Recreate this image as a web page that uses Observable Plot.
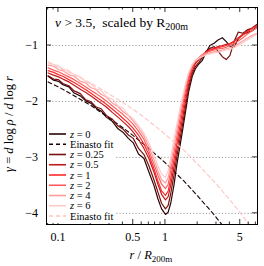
<!DOCTYPE html>
<html>
<head>
<meta charset="utf-8">
<script src="https://cdn.jsdelivr.net/npm/d3@7"></script>
<script src="https://cdn.jsdelivr.net/npm/@observablehq/plot@0.6"></script>
<style>
  html, body { margin: 0; padding: 0; background: white; }
  svg { display: block; }
</style>
</head>
<body>
<div id="chart"></div>
<script>
// ---- data ----
const rGrid = [0.08,0.09,0.1,0.11,0.125,0.14,0.16,0.18,0.2,0.225,0.25,0.28,0.32,0.36,0.4,0.45,0.5,0.56,0.63,0.7,0.78,0.85,0.92,1.0,1.06,1.12,1.2,1.28,1.36,1.45,1.55,1.65,1.78,1.9,2.05,2.2,2.4,2.6,2.85,3.1,3.4,3.7,4.0,4.4,4.8,5.3,5.8,6.4,7.2];

const seriesLabels = ["0", "0.25", "0.5", "1", "2", "4", "6"];
const seriesColors = ["#2a0505", "#7a1010", "#c41a1a", "#ff2a2a", "#ff5c5c", "#ff9c9c", "#ffcaca"];

const gZ0 = [-1.55,-1.62,-1.64,-1.70,-1.74,-1.85,-1.90,-1.99,-2.03,-2.12,-2.17,-2.28,-2.36,-2.49,-2.55,-2.66,-2.74,-2.94,-3.02,-3.26,-3.50,-3.74,-3.92,-4.02,-3.98,-3.82,-3.50,-3.12,-2.82,-2.50,-2.15,-1.82,-1.55,-1.42,-1.33,-1.27,-1.12,-1.00,-0.96,-0.90,-0.86,-0.93,-1.01,-1.02,-0.88,-0.80,-0.77,-0.74,-0.67];
const gZ025 = [-1.54,-1.60,-1.61,-1.68,-1.72,-1.81,-1.86,-1.97,-2.00,-2.10,-2.13,-2.25,-2.32,-2.44,-2.49,-2.60,-2.66,-2.84,-2.95,-3.15,-3.40,-3.62,-3.82,-3.92,-3.86,-3.65,-3.32,-2.98,-2.70,-2.40,-2.06,-1.75,-1.50,-1.38,-1.30,-1.22,-1.10,-1.05,-1.02,-1.10,-1.20,-1.25,-1.18,-0.92,-0.76,-0.78,-0.72,-0.69,-0.62];
const gZ05 = [-1.49,-1.53,-1.56,-1.60,-1.65,-1.71,-1.78,-1.84,-1.90,-1.97,-2.03,-2.10,-2.20,-2.28,-2.36,-2.45,-2.55,-2.68,-2.84,-3.02,-3.26,-3.48,-3.66,-3.76,-3.70,-3.50,-3.18,-2.86,-2.58,-2.28,-1.96,-1.68,-1.46,-1.33,-1.25,-1.20,-1.13,-1.08,-1.05,-1.02,-1.00,-0.98,-0.97,-0.92,-0.86,-0.80,-0.74,-0.70,-0.64];
const gZ1 = [-1.45,-1.48,-1.52,-1.55,-1.61,-1.66,-1.73,-1.79,-1.85,-1.92,-1.98,-2.05,-2.14,-2.22,-2.30,-2.39,-2.48,-2.60,-2.76,-2.95,-3.20,-3.42,-3.60,-3.68,-3.60,-3.38,-3.05,-2.75,-2.46,-2.16,-1.86,-1.60,-1.40,-1.30,-1.22,-1.17,-1.12,-1.08,-1.06,-1.04,-1.02,-1.00,-0.97,-0.93,-0.87,-0.81,-0.76,-0.70,-0.64];
const gZ2 = [-1.40,-1.44,-1.47,-1.51,-1.56,-1.61,-1.68,-1.74,-1.80,-1.86,-1.92,-1.99,-2.08,-2.16,-2.23,-2.32,-2.41,-2.53,-2.68,-2.88,-3.12,-3.32,-3.48,-3.56,-3.48,-3.24,-2.92,-2.62,-2.34,-2.06,-1.78,-1.55,-1.38,-1.28,-1.22,-1.17,-1.13,-1.10,-1.08,-1.06,-1.05,-1.03,-1.00,-0.96,-0.92,-0.86,-0.80,-0.74,-0.68];
const gZ4 = [-1.35,-1.37,-1.43,-1.45,-1.52,-1.55,-1.64,-1.67,-1.75,-1.79,-1.87,-1.92,-2.03,-2.09,-2.18,-2.25,-2.35,-2.47,-2.62,-2.80,-3.04,-3.24,-3.40,-3.46,-3.36,-3.12,-2.80,-2.50,-2.22,-1.96,-1.70,-1.50,-1.35,-1.27,-1.22,-1.18,-1.15,-1.13,-1.11,-1.10,-1.08,-1.06,-1.04,-1.01,-0.97,-0.92,-0.87,-0.82,-0.78];
const gZ6 = [-1.29,-1.34,-1.36,-1.42,-1.45,-1.52,-1.56,-1.65,-1.68,-1.78,-1.80,-1.91,-1.96,-2.08,-2.12,-2.24,-2.31,-2.43,-2.57,-2.74,-2.96,-3.15,-3.30,-3.36,-3.24,-3.00,-2.68,-2.40,-2.14,-1.90,-1.66,-1.48,-1.34,-1.27,-1.23,-1.20,-1.17,-1.15,-1.13,-1.12,-1.10,-1.08,-1.07,-1.04,-1.00,-0.95,-0.90,-0.85,-0.80];
const seriesValues = [gZ0, gZ025, gZ05, gZ1, gZ2, gZ4, gZ6];

const einDarkR = [0.08,0.1,0.15,0.2,0.3,0.4,0.5,0.7,1.0,1.2,1.5,2.0,2.5,2.75,3.0,3.5];
const einDarkG = [-1.65,-1.74,-1.93,-2.07,-2.30,-2.47,-2.61,-2.84,-3.10,-3.25,-3.43,-3.69,-3.90,-3.99,-4.08,-4.24];
const einLightR = [0.08,0.1,0.15,0.2,0.3,0.5,0.7,1.0,1.5,2.0,3.0,4.0,5.0,6.0,7.2];
const einLightG = [-1.31,-1.39,-1.55,-1.67,-1.87,-2.14,-2.35,-2.59,-2.88,-3.12,-3.48,-3.76,-3.99,-4.19,-4.40];
const einDarkColor = "#1a0000";
const einLightColor = "#ffc4c4";

const xTickMajor = [0.1, 0.5, 1, 5];
const xTickLabels = ["0.1", "0.5", "1", "5"];
const xTickMinor = [0.08,0.09,0.2,0.3,0.4,0.6,0.7,0.8,0.9,2,3,4,6,7];
const yTicks = [-1, -2, -3, -4];
const yTickLabels = ["\u22121", "\u22122", "\u22123", "\u22124"];

// ---- build rows ----
const curveRows = seriesValues.flatMap((vals, i) =>
  vals.map((v, j) => ({r: rGrid[j], g: v, s: i, color: seriesColors[i]})));
const einDarkRows = einDarkR.map((r, i) => ({r, g: einDarkG[i]}));
const einLightRows = einLightR.map((r, i) => ({r, g: einLightG[i]}));

const FONT = "'Liberation Serif', 'DejaVu Serif', serif";

const chart = Plot.plot({
  width: 264,
  height: 266,
  marginLeft: 46,
  marginRight: 7,
  marginTop: 7,
  marginBottom: 42,
  style: {background: "white", fontFamily: FONT},
  x: {type: "log", domain: [0.0773, 7.25], axis: null},
  y: {domain: [-4.2, -0.32], axis: null},
  marks: [
    Plot.ruleY(yTicks, {stroke: "#777", strokeWidth: 0.9, strokeDasharray: "1,2.2"}),
    Plot.line(curveRows.filter(d => d.s === 0), {x: "r", y: "g", stroke: seriesColors[0], strokeWidth: 1.2, clip: true}),
    Plot.line(einDarkRows, {x: "r", y: "g", stroke: einDarkColor, strokeWidth: 1.1, strokeDasharray: "4,3", clip: true}),
    Plot.line(curveRows.filter(d => d.s > 0), {x: "r", y: "g", z: "s", stroke: "color", strokeWidth: 1.2, clip: true}),
    Plot.line(einLightRows, {x: "r", y: "g", stroke: einLightColor, strokeWidth: 1.1, strokeDasharray: "4,3", clip: true}),
    Plot.frame({stroke: "black", strokeWidth: 1})
  ]
});
document.getElementById("chart").appendChild(chart);

const sx = chart.scale("x"), sy = chart.scale("y");
const svg = d3.select(chart);
const X = v => sx.apply(v), Y = v => sy.apply(v);
const xL = X(0.0773), xR = X(7.25), yT = Y(-0.32), yB = Y(-4.2);

// ticks (inward, all four sides)
const tk = svg.append("g").attr("stroke", "black").attr("stroke-width", 0.8);
xTickMajor.forEach(v => {
  tk.append("line").attr("x1", X(v)).attr("x2", X(v)).attr("y1", yB).attr("y2", yB - 5);
  tk.append("line").attr("x1", X(v)).attr("x2", X(v)).attr("y1", yT).attr("y2", yT + 5);
});
xTickMinor.forEach(v => {
  tk.append("line").attr("x1", X(v)).attr("x2", X(v)).attr("y1", yB).attr("y2", yB - 2.5);
  tk.append("line").attr("x1", X(v)).attr("x2", X(v)).attr("y1", yT).attr("y2", yT + 2.5);
});
yTicks.forEach(v => {
  tk.append("line").attr("x1", xL).attr("x2", xL + 5).attr("y1", Y(v)).attr("y2", Y(v));
  tk.append("line").attr("x1", xR).attr("x2", xR - 5).attr("y1", Y(v)).attr("y2", Y(v));
});

// tick labels
const lab = svg.append("g").attr("font-family", FONT).attr("font-size", 12).attr("fill", "black");
xTickMajor.forEach((v, i) => {
  lab.append("text").attr("x", X(v)).attr("y", yB + 17).attr("text-anchor", "middle").text(xTickLabels[i]);
});
yTicks.forEach((v, i) => {
  lab.append("text").attr("x", xL - 8).attr("y", Y(v) + 4).attr("text-anchor", "end").text(yTickLabels[i]);
});

// axis titles
const xt = lab.append("text").attr("x", 151).attr("y", 259).attr("text-anchor", "middle").attr("font-size", 12.5);
xt.append("tspan").attr("font-style", "italic").text("r");
xt.append("tspan").text(" / ");
xt.append("tspan").attr("font-style", "italic").text("R");
xt.append("tspan").attr("font-size", 9).attr("dy", 3).text("200m");

const yt = lab.append("text").attr("transform", "translate(13,124) rotate(-90)").attr("text-anchor", "middle").attr("font-size", 12.5);
yt.append("tspan").attr("font-style", "italic").text("\u03b3");
yt.append("tspan").text(" = ");
yt.append("tspan").attr("font-style", "italic").text("d");
yt.append("tspan").text(" log ");
yt.append("tspan").attr("font-style", "italic").text("\u03c1");
yt.append("tspan").text(" / ");
yt.append("tspan").attr("font-style", "italic").text("d");
yt.append("tspan").text(" log ");
yt.append("tspan").attr("font-style", "italic").text("r");

// title inside frame
const tt = lab.append("text").attr("x", 55).attr("y", 27).attr("text-anchor", "start").attr("font-size", 13.5);
tt.append("tspan").attr("font-style", "italic").text("\u03bd");
tt.append("tspan").text(" > 3.5,  scaled by R");
tt.append("tspan").attr("font-size", 10).attr("dy", 3).text("200m");

// legend
const lg = svg.append("g");
lg.append("rect").attr("x", xL + 1).attr("y", 128).attr("width", 69).attr("height", yB - 128 - 1).attr("fill", "white");
const legendItems = [
  {label: seriesLabels[0], color: seriesColors[0], dash: null},
  {label: null, color: einDarkColor, dash: "4,3"},
  ...seriesLabels.slice(1).map((l, i) => ({label: l, color: seriesColors[i + 1], dash: null})),
  {label: null, color: einLightColor, dash: "4,3"}
];
legendItems.forEach((it, i) => {
  const yy = 134 + i * 10.25;
  lg.append("line").attr("x1", 49).attr("x2", 66).attr("y1", yy).attr("y2", yy)
    .attr("stroke", it.color).attr("stroke-width", 1.6).attr("stroke-dasharray", it.dash);
  const t = lg.append("text").attr("x", 70).attr("y", yy + 3.5).attr("text-anchor", "start")
    .attr("font-family", FONT).attr("font-size", 10.5).attr("fill", "black");
  if (it.label === null) {
    t.text("Einasto fit");
  } else {
    t.append("tspan").attr("font-style", "italic").text("z");
    t.append("tspan").text(" = " + it.label);
  }
});
</script>
</body>
</html>
